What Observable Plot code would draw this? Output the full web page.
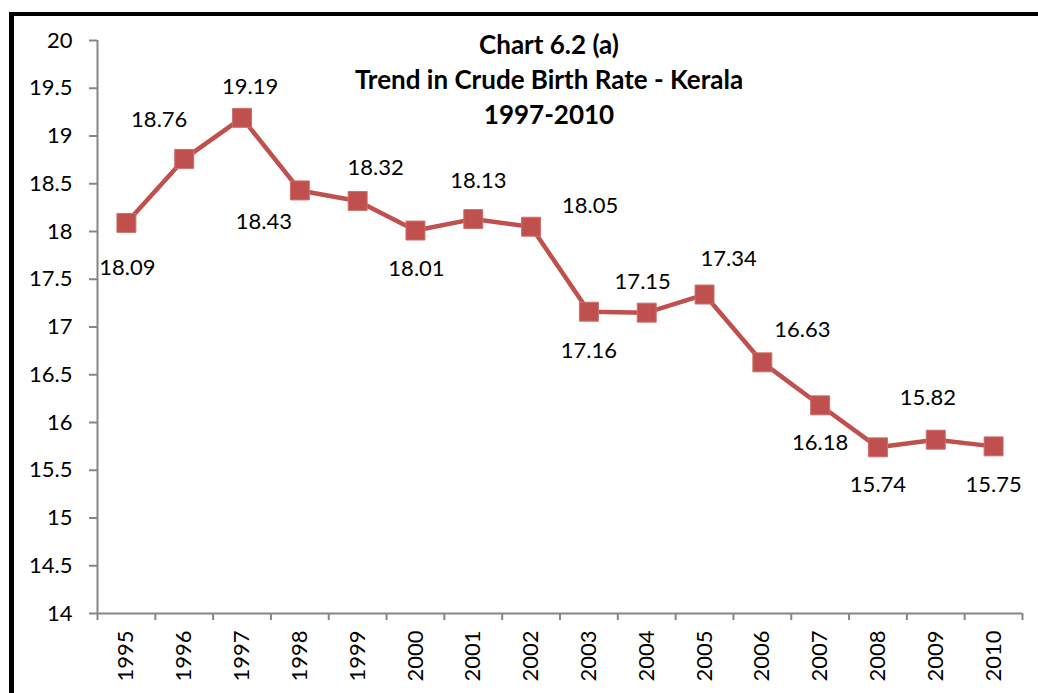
<!DOCTYPE html>
<html><head><meta charset="utf-8">
<script src="https://cdn.jsdelivr.net/npm/d3@7"></script>
<script src="https://cdn.jsdelivr.net/npm/@observablehq/plot@0.6"></script>
<style>
body{margin:0;background:#fff;}
#wrap{position:relative;width:1038px;height:693px;overflow:hidden;}
#chart{position:absolute;left:0;top:0;}
#border{position:absolute;left:9px;top:12px;width:1200px;height:900px;border-left:5px solid #000;border-top:4px solid #000;pointer-events:none;}
</style></head><body>
<div id="wrap"><div id="chart"></div><div id="border"></div></div>
<script>
const years = ["1995","1996","1997","1998","1999","2000","2001","2002","2003","2004","2005","2006","2007","2008","2009","2010"];
const birthRate = [18.09,18.76,19.19,18.43,18.32,18.01,18.13,18.05,17.16,17.15,17.34,16.63,16.18,15.74,15.82,15.75];
const yTicks = [14,14.5,15,15.5,16,16.5,17,17.5,18,18.5,19,19.5,20];
const titleLines = ["Chart 6.2 (a)","Trend in Crude Birth Rate - Kerala","1997-2010"];
// label offsets (pixels) relative to each marker
const labelDx = [1,-25,8,-36,18,1,5,59,0,-4,24,40,0,0,-8,0];
const labelDy = [45,-39,-31,32,-33,38,-38,-21,39,-31,-36,-32,38,38,-42,39];

const data = years.map((year, i) => ({i, year, value: birthRate[i]}));
const boundaries = years.map((_, i) => i - 0.5).concat([years.length - 0.5]);
const axisGray = "#868686";
const red = "#C0504D";

const chart = Plot.plot({
  width: 1038, height: 693,
  marginLeft: 97, marginRight: 16, marginTop: 40, marginBottom: 80,
  style: {fontFamily: "Lato", fontSize: "22px", color: "#000", background: "transparent"},
  x: {type: "linear", domain: [-0.5, years.length - 0.5]},
  y: {domain: [14, 20]},
  marks: [
    Plot.axisY({ticks: yTicks, tickFormat: d => String(d), tickSize: 8, tickPadding: 17, stroke: axisGray, strokeWidth: 2, fontSize: 22, label: null}),
    Plot.axisX({ticks: boundaries, tickFormat: () => "", tickSize: 7, stroke: axisGray, strokeWidth: 2, label: null}),
    Plot.axisX({ticks: years.map((_, i) => i), tickFormat: i => years[i], tickSize: 0, tickPadding: 17, tickRotate: -90, fontSize: 22, label: null}),
    Plot.ruleY([14], {stroke: axisGray, strokeWidth: 2}),
    Plot.ruleX([-0.5], {y1: 14, y2: 20, stroke: axisGray, strokeWidth: 2}),
    Plot.line(data, {x: "i", y: "value", stroke: red, strokeWidth: 4.5}),
    Plot.dot(data, {x: "i", y: "value", symbol: "square", r: 10.7, fill: red, stroke: "#CD6F6C", strokeWidth: 1}),
    ...data.map((d, i) => Plot.text([d], {x: "i", y: "value", text: v => v.value.toFixed(2), dx: labelDx[i], dy: labelDy[i], fontSize: 22, fill: "#000"})),
    Plot.text([titleLines.join("\n")], {frameAnchor: "top", dx: -11, dy: -11, fontWeight: "bold", fontSize: 26, lineHeight: 35/26, fill: "#000"})
  ]
});
document.getElementById("chart").appendChild(chart);
</script>
</body></html>
